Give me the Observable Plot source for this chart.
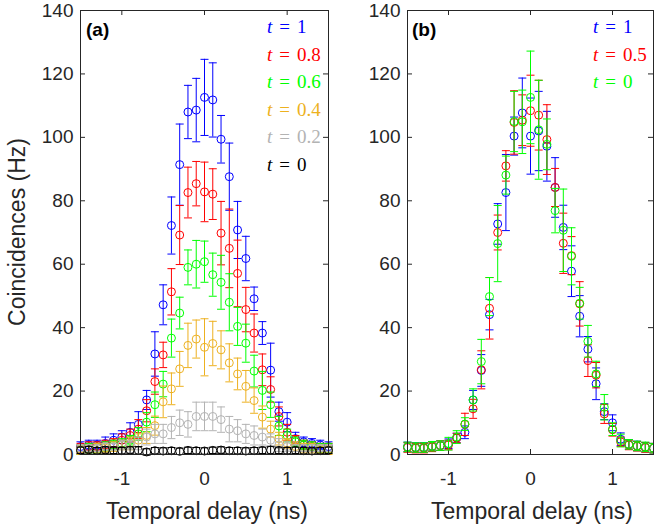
<!DOCTYPE html>
<html>
<head>
<meta charset="utf-8">
<script src="https://cdn.jsdelivr.net/npm/d3@7"></script>
<script src="https://cdn.jsdelivr.net/npm/@observablehq/plot@0.6"></script>
<style>
  body { margin: 0; background: #fff; }
  #wrap { position: relative; width: 654px; height: 528px; overflow: hidden; background: #fff; }
</style>
</head>
<body>
<div id="wrap"></div>
<script>
// ---------- data ----------
const xs = [-1.5,-1.4,-1.3,-1.2,-1.1,-1.0,-0.9,-0.8,-0.7,-0.6,-0.5,-0.4,-0.3,-0.2,-0.1,0,0.1,0.2,0.3,0.4,0.5,0.6,0.7,0.8,0.9,1.0,1.1,1.2,1.3,1.4,1.5];
const xTicks = [-1, 0, 1];
const yTicks = [0, 20, 40, 60, 80, 100, 120, 140];

// panel (a)
const labelsA = ["1", "0.8", "0.6", "0.4", "0.2", "0"];
const colorsA = ["#0000FF", "#FF0000", "#00FF00", "#EDB120", "#B3B3B3", "#000000"];
const blueA   = [2.5,3,3,3.5,4.5,5.5,7,9.5,17.2,31.7,47.2,72.2,91.4,108,108.6,112.6,111.8,99.4,87.6,70.8,61.8,49.1,38.3,26.6,13.5,10.2,5,4,3.5,3,2.5];
const blueAErr= [1.5,1.5,1.5,2,2,2,3,4,3,7,6.3,9,12.8,8.4,10,12,11.7,7.5,10.6,9,7,3.7,3.6,8.5,3,3,2,1.5,1.5,1.5,1.5];
const redA    = [2,2.5,2.5,3,3.5,4.5,6,8,13.8,23,31.4,51.3,69.2,82.6,85.4,82.8,82.1,69.8,65,57.1,45.7,38.3,26.7,20.5,12,7,4.5,3,2.5,2,2];
const redAErr = [1.5,1.5,1.5,1.5,1.5,2,2,3,3.5,4,4,7.3,9.3,8,7,9.4,8,10,12.4,10.5,7,6,5,4,3,2.5,1.5,1.5,1.5,1.5,1.5];
const greenA  = [1.5,2,2,2.5,3,3.5,4.5,6.5,10.2,15.7,22.2,36.7,44.6,59,60,60.8,56.7,54.3,48,40.4,35.1,26.3,20.2,15.7,9,6,4,3,2.5,2,2];
const greenAErr=[1.5,1.5,1.5,1.5,1.5,1.5,1.5,2,3,4,4,6,5,5.5,7.5,6.5,6.8,8.5,9,6,6,5,6,4,3,2,1.5,1.5,1.5,1.5,1.5];
const orangeA = [1.5,1.5,2,2,2.5,3,3.5,4.5,6,9.1,16.6,20.7,27,34.4,36.4,33.8,35,33,28.9,25.4,21.5,17,11.8,8,5,3.5,2.5,2,2,1.5,1.5];
const orangeAErr=[1.5,1.5,1.5,1.5,1.5,1.5,2,2,2.5,3,5,5,5.5,7,6,9,7,6,6,5,5,4,3.5,2.5,2,1.5,1.5,1.5,1.5,1.5,1.5];
const grayA   = [2,2,2,2.5,2.5,3,3,3.5,5.5,6.5,6.5,8.5,10,9.5,12,12,12,11,8,7.5,6.5,6,5.5,4.5,3,2.5,2,2,2,2,2];
const grayAErr= [1,1,1,1,1,1.5,1.5,2,2.5,3,3,3.5,4,4,4.5,4.5,4.5,4,4,3.5,3,3,2.5,2,2,1.5,1,1,1,1,1];
const blackA  = [1.3,1.5,1.2,1.4,1.3,1.2,1.4,1.3,0.8,1.2,1.1,1.2,1.0,1.3,1.2,1.1,1.3,1.4,1.2,1.2,1.1,1.2,1.3,1.4,1.3,1.2,1.3,1.2,1.1,1.2,1.3];
const blackAErr=[1,1,1,1,1,1,1,1.2,1,1,1,1,1,1,1,1,1,1,1,1,1,1,1,1.2,1,1,1,1,1,1,1];

// panel (b)
const labelsB = ["1", "0.5", "0"];
const colorsB = ["#0000FF", "#FF0000", "#00FF00"];
const blueB   = [2.4,2.2,2.2,2.6,2.8,3.4,5.2,7,17.2,26.5,44.1,72.7,82.6,100.4,107.7,100.4,102,97.2,84.2,71.6,57.8,43.6,33.2,22.3,13.5,10,4.8,3.2,2.7,2.3,2];
const blueBErr= [1.5,1.5,1.5,1.5,1.5,1.5,1.5,2,3,5,4.8,6.4,12,6,11,12,12.5,11,9.4,7,8,6.5,4,5,2.5,2.5,2,1.5,1.5,1.5,1.5];
const redB    = [2.2,2,2,2.4,2.8,3,5.2,9.5,14.4,26.7,46.1,70,91,104.7,105.4,108.4,107,99.3,84.2,66.6,62.7,47.5,29.6,25,12.8,7.8,4,3,2.6,2.2,2];
const redBErr = [1.5,1.5,1.5,1.5,1.5,1.5,1.5,3.5,3,6,9.7,5.5,4.8,10,8,11.2,11,11,6,9.5,6,7,5,4,3,2,1.5,1.5,1.5,1.5,1.5];
const greenB  = [2.4,2.2,2.2,2.6,2.8,3.4,5.5,9.6,17.2,29.3,49.8,66.5,88.1,105,104.9,112.6,102.4,97.8,76.9,70.7,62.5,47.7,35.7,25.4,14.9,8,4.4,3.2,2.7,2.4,2];
const greenBErr=[1.5,1.5,1.5,1.5,1.5,2,2,2,3.5,7,6,12,6,9.5,10,14.6,15.6,8,7,13,9,5,5,4,4,2,2,1.5,1.5,1.5,1.5];

// ---------- drawing ----------
const AX = "#262626";
const H = 528, MT = 10, MB = 74;
const cap = { draw(ctx, size) { const r = Math.sqrt(size / Math.PI); ctx.moveTo(-r, 0); ctx.lineTo(r, 0); } };

function seriesMarks(values, errs, color) {
  const rows = xs.map((x, i) => ({x, y: values[i], e: errs[i]}));
  return [
    Plot.ruleX(rows, {x: "x", y1: d => d.y - d.e, y2: d => d.y + d.e, stroke: color, strokeWidth: 1}),
    Plot.dot(rows, {x: "x", y: d => d.y + d.e, symbol: cap, r: 4, stroke: color, strokeWidth: 1}),
    Plot.dot(rows, {x: "x", y: d => d.y - d.e, symbol: cap, r: 4, stroke: color, strokeWidth: 1}),
    Plot.dot(rows, {x: "x", y: "y", r: 4, stroke: color, fill: "none", strokeWidth: 1})
  ];
}

function panel({width, marginLeft, marginRight, series}) {
  const innerW = width - marginLeft - marginRight, innerH = H - MT - MB;
  const marks = [
    Plot.axisX({ticks: xTicks, tickSize: 0, tickPadding: 17, tickFormat: d => String(d), label: null}),
    Plot.axisY({ticks: yTicks, tickSize: 0, tickPadding: 7, tickFormat: d => String(d), label: null}),
    Plot.tickY(yTicks, {y: d => d, stroke: AX, insetRight: innerW - 5}),
    Plot.tickY(yTicks, {y: d => d, stroke: AX, insetLeft: innerW - 5}),
    Plot.tickX(xTicks, {x: d => d, stroke: AX, insetTop: innerH - 5}),
    Plot.tickX(xTicks, {x: d => d, stroke: AX, insetBottom: innerH - 5})
  ];
  for (const s of series) marks.push(...seriesMarks(s.v, s.e, s.c));
  marks.push(Plot.frame({stroke: AX, strokeWidth: 1}));
  return Plot.plot({
    width, height: H, marginTop: MT, marginBottom: MB, marginLeft, marginRight,
    x: {domain: [-1.5, 1.5]},
    y: {domain: [0, 140]},
    style: {background: "transparent", color: AX, fontFamily: "'Liberation Sans', Arial, sans-serif", fontSize: "19px"},
    marks
  });
}

const wrap = document.getElementById("wrap");
const pa = panel({width: 340, marginLeft: 80, marginRight: 12, series: [
  {v: blueA, e: blueAErr, c: colorsA[0]},
  {v: redA, e: redAErr, c: colorsA[1]},
  {v: greenA, e: greenAErr, c: colorsA[2]},
  {v: orangeA, e: orangeAErr, c: colorsA[3]},
  {v: grayA, e: grayAErr, c: colorsA[4]},
  {v: blackA, e: blackAErr, c: colorsA[5]}
]});
pa.style.position = "absolute"; pa.style.left = "0px"; pa.style.top = "0px";
wrap.appendChild(pa);

const pb = panel({width: 324, marginLeft: 77, marginRight: 1, series: [
  {v: blueB, e: blueBErr, c: colorsB[0]},
  {v: redB, e: redBErr, c: colorsB[1]},
  {v: greenB, e: greenBErr, c: colorsB[2]}
]});
pb.style.position = "absolute"; pb.style.left = "330px"; pb.style.top = "0px";
wrap.appendChild(pb);

// ---------- text overlay ----------
const NS = "http://www.w3.org/2000/svg";
const ov = document.createElementNS(NS, "svg");
ov.setAttribute("width", 654); ov.setAttribute("height", 528);
ov.style.position = "absolute"; ov.style.left = "0px"; ov.style.top = "0px"; ov.style.pointerEvents = "none";
function txt(x, y, s, attrs = {}) {
  const t = document.createElementNS(NS, "text");
  t.setAttribute("x", x); t.setAttribute("y", y);
  for (const k in attrs) t.setAttribute(k, attrs[k]);
  t.textContent = s; ov.appendChild(t); return t;
}
const sans = "'Liberation Sans', Arial, sans-serif";
txt(207, 519, "Temporal delay (ns)", {"text-anchor": "middle", "font-family": sans, "font-size": 23, fill: AX});
txt(532, 519, "Temporal delay (ns)", {"text-anchor": "middle", "font-family": sans, "font-size": 23, fill: AX});
txt(0, 0, "Coincidences (Hz)", {"text-anchor": "middle", "font-family": sans, "font-size": 23, fill: AX, transform: "translate(25,232) rotate(-90)"});
txt(86, 36, "(a)", {"font-family": sans, "font-size": 19, "font-weight": "bold", fill: "#000"});
txt(412, 36, "(b)", {"font-family": sans, "font-size": 19, "font-weight": "bold", fill: "#000"});

function legend(x, labels, colors) {
  const base = [33, 61, 88, 116, 143, 171];
  labels.forEach((lab, i) => {
    const t = document.createElementNS(NS, "text");
    t.setAttribute("x", x); t.setAttribute("y", base[i]);
    t.setAttribute("font-family", "'Liberation Serif', 'Times New Roman', serif");
    t.setAttribute("font-size", 19);
    t.setAttribute("fill", colors[i]);
    const a = document.createElementNS(NS, "tspan"); a.setAttribute("font-style", "italic"); a.textContent = "t";
    const b = document.createElementNS(NS, "tspan"); b.setAttribute("dx", 7); b.textContent = "=";
    const c = document.createElementNS(NS, "tspan"); c.setAttribute("dx", 7); c.textContent = lab;
    t.append(a, b, c); ov.appendChild(t);
  });
}
legend(267, labelsA, colorsA);
legend(593, labelsB, colorsB);
wrap.appendChild(ov);
</script>
</body>
</html>
